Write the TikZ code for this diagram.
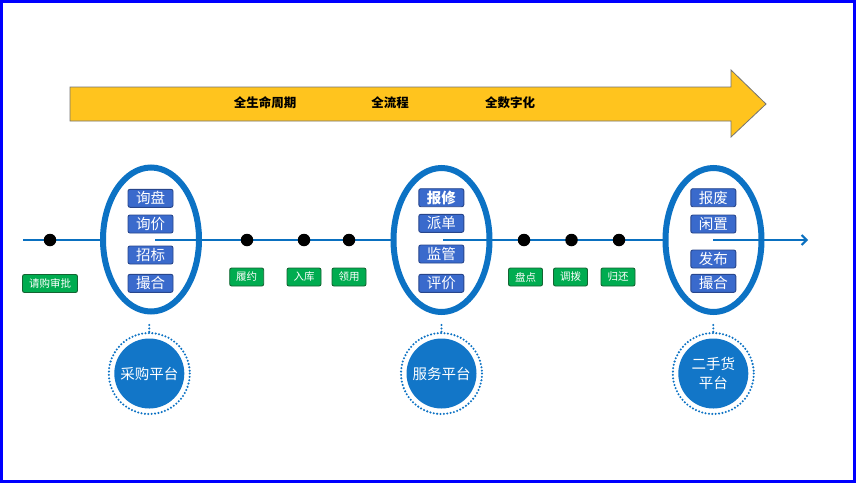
\documentclass[tikz,border=0pt]{standalone}
\usepackage{fontspec}
\newfontfamily\cjk{Noto Sans CJK SC}
\usetikzlibrary{shapes.geometric,arrows.meta}
\definecolor{frameblue}{RGB}{0,0,255}
\definecolor{lineblue}{RGB}{10,112,192}
\definecolor{ringblue}{RGB}{12,114,196}
\definecolor{circblue}{RGB}{18,118,200}
\definecolor{boxblue}{RGB}{58,106,204}
\definecolor{boxedge}{RGB}{40,70,140}
\definecolor{boxgreen}{RGB}{0,172,80}
\definecolor{greenedge}{RGB}{20,100,50}
\definecolor{arrowyellow}{RGB}{255,196,30}
\tikzset{
  bluebox/.style={draw=boxedge, fill=boxblue, line width=0.9, rounded corners=2,
    minimum width=45, minimum height=18, inner sep=0, text=white,
    font=\cjk\fontsize{14.5}{15}\selectfont},
  greenbox/.style={draw=greenedge, fill=boxgreen, line width=0.9, rounded corners=2,
    minimum width=34, minimum height=18, inner sep=2, text=white,
    font=\cjk\fontsize{10.5}{11}\selectfont},
  oval/.style={ellipse, draw=ringblue, fill=white, line width=6,
    minimum width=96, minimum height=144, inner sep=0},
  dotnode/.style={circle, fill=black, minimum size=12.5, inner sep=0},
  tline/.style={draw=lineblue, line width=2.2},
  platform/.style={circle, fill=circblue, minimum size=70, inner sep=0, text=white,
    align=center, font=\cjk\fontsize{14.5}{19}\selectfont},
  ringdots/.style={draw=ringblue, line width=2.3, line cap=round, dash pattern=on 0pt off 3.4pt},
  bandtext/.style={font=\cjk\bfseries\fontsize{12.5}{14}\selectfont, text=black}
}
\begin{document}
\begin{tikzpicture}[x=1pt,y=-1pt]
\useasboundingbox (0,0) rectangle (856,483);
\fill[white] (0,0) rectangle (856,483);
\draw[frameblue, line width=2.6] (1.3,1.3) rectangle (854.3,481.7);

% yellow band arrow
\draw[fill=arrowyellow, draw=black!55, line width=0.8]
  (70,87) -- (731,87) -- (731,70) -- (766,104) -- (731,137) -- (731,121) -- (70,121) -- cycle;
\node[bandtext] (t1) at (265,103) {全生命周期};
\node[bandtext] (t2) at (390,103) {全流程};
\node[bandtext] (t3) at (510,103) {全数字化};

% timeline
\coordinate (start) at (23,240);
\coordinate (finish) at (808,240);
\coordinate (c1) at (155,240);
\coordinate (c2) at (443,240);
\coordinate (c3) at (713,240);

\draw[tline] (start) -- (151,240);
\node[oval] (e1) at (151,239.5) {};
\draw[tline] (c1) -- (441,240);
\node[oval] (e2) at (441.5,240) {};
\draw[tline] (c2) -- (713,240);
\node[oval] (e3) at (713.5,240) {};
\draw[tline, -{Straight Barb[length=5pt,width=10pt,line width=2pt]}] (c3) -- (finish);

% dots
\node[dotnode] (d1) at (50,240) {};
\node[dotnode] (d2) at (247,240) {};
\node[dotnode] (d3) at (304,240) {};
\node[dotnode] (d4) at (349,240) {};
\node[dotnode] (d5) at (524,240) {};
\node[dotnode] (d6) at (571.5,240) {};
\node[dotnode] (d7) at (619,240) {};

% green labels
\node[greenbox, minimum width=55] (g1) at (50,283.5) {请购审批};
\node[greenbox] (g2) at (246.7,277) {履约};
\node[greenbox] (g3) at (304,277) {入库};
\node[greenbox] (g4) at (349,277) {领用};
\node[greenbox] (g5) at (525.5,277) {盘点};
\node[greenbox] (g6) at (570.5,277) {调拨};
\node[greenbox] (g7) at (618,277) {归还};

% blue boxes
\node[bluebox] (b11) at (150.5,198.3) {询盘};
\node[bluebox] (b12) at (150.5,224) {询价};
\node[bluebox] (b13) at (150.5,255) {招标};
\node[bluebox] (b14) at (150.5,283.3) {撮合};
\node[bluebox, font=\cjk\bfseries\fontsize{14.5}{15}\selectfont] (b21) at (441.3,197.7) {报修};
\node[bluebox] (b22) at (441.3,223.3) {派单};
\node[bluebox] (b23) at (441.3,254) {监管};
\node[bluebox] (b24) at (441.3,283.3) {评价};
\node[bluebox] (b31) at (713.3,197.7) {报废};
\node[bluebox] (b32) at (713.3,224) {闲置};
\node[bluebox] (b33) at (713.3,259) {发布};
\node[bluebox] (b34) at (713.3,283.3) {撮合};

% platforms
\node[platform] (p1) at (149.3,373.5) {采购平台};
\node[platform] (p2) at (441.5,373.5) {服务平台};
\node[platform] (p3) at (713.3,373.5) {二手货\\平台};
\foreach \p in {p1,p2,p3}{
  \draw[ringdots] (\p.center) circle[radius=40.5];
}
\coordinate (v1) at (149.3,325);
\coordinate (v2) at (441.5,325);
\coordinate (v3) at (713.3,325);
\draw[ringdots] (v1) -- ([yshift=41]p1.center);
\draw[ringdots] (v2) -- ([yshift=41]p2.center);
\draw[ringdots] (v3) -- ([yshift=41]p3.center);
\end{tikzpicture}
\end{document}
